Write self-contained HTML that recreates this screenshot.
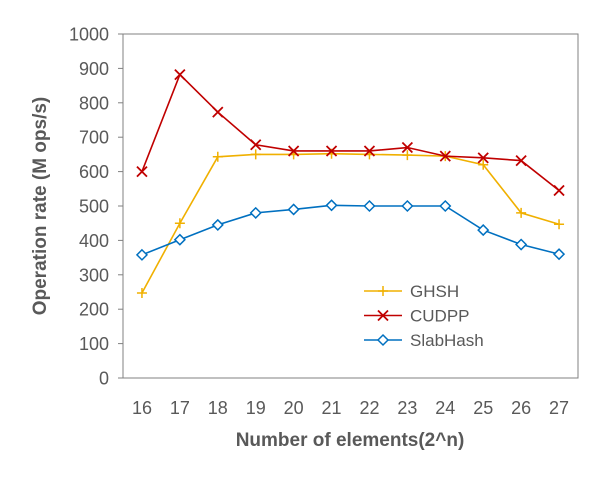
<!DOCTYPE html>
<html><head><meta charset="utf-8"><style>
body{margin:0;background:#fff;}
svg text{font-family:"Liberation Sans",Arial,sans-serif;fill:#595959;}
</style></head><body>
<svg width="602" height="479" id="c">
<rect x="0" y="0" width="602" height="479" fill="#fff"/>
</svg>
<script>
const categories=["16","17","18","19","20","21","22","23","24","25","26","27"];
const ghsh=[247,450,643,650,650,652,650,648,645,620,480,447];
const cudpp=[600,882,773,678,660,660,660,670,645,640,632,545];
const slab=[358,402,445,480,490,502,500,500,500,430,388,360];
const yTicks=[0,100,200,300,400,500,600,700,800,900,1000];
const NS="http://www.w3.org/2000/svg";
const svg=document.getElementById('c');
const L=123,R=578,T=34,B=378;
const xs=i=>L+(R-L)/categories.length*(i+0.5);
const ys=v=>B-(B-T)*v/1000;
function mk(t,a,p){const e=document.createElementNS(NS,t);for(const k in a)e.setAttribute(k,a[k]);(p||svg).appendChild(e);return e;}
const frame=mk('rect',{x:L,y:T,width:R-L,height:B-T,fill:'none',stroke:'#808080','stroke-width':1});


yTicks.forEach(v=>{
 const tk=mk('line',{x1:L-5,x2:L,y1:ys(v),y2:ys(v),stroke:'#808080'});
 
 
 const t=mk('text',{x:L-14,y:ys(v)+6.5,'text-anchor':'end','font-size':18});
 t.textContent=v;
 
 
});
categories.forEach((c,i)=>{
 const t=mk('text',{x:xs(i),y:414,'text-anchor':'middle','font-size':18});
 t.textContent=c;
 
 
});
const xt=mk('text',{x:350,y:446,'text-anchor':'middle','font-size':19,'font-weight':'bold'});
xt.textContent='Number of elements(2^n)';


const yt=mk('text',{x:0,y:0,'text-anchor':'middle','font-size':19,'font-weight':'bold',transform:'translate(46,206) rotate(-90)'});
yt.textContent='Operation rate (M ops/s)';


function marker(kind,x,y,col,g){
 if(kind==='plus'){mk('path',{d:`M${x-5},${y}H${x+5}M${x},${y-5}V${y+5}`,stroke:col,'stroke-width':1.5,fill:'none'},g);}
 else if(kind==='x'){mk('path',{d:`M${x-5},${y-5}L${x+5},${y+5}M${x-5},${y+5}L${x+5},${y-5}`,stroke:col,'stroke-width':1.8,fill:'none'},g);}
 else {mk('path',{d:`M${x},${y-5}L${x+5},${y}L${x},${y+5}L${x-5},${y}Z`,stroke:col,'stroke-width':1.5,fill:'#fff'},g);}
}
const series=[["GHSH",ghsh,'#F0B000','plus'],["CUDPP",cudpp,'#C00000','x'],["SlabHash",slab,'#0070C0','diamond']];
series.forEach(([name,vals,col,kind],si)=>{
 const g=mk('g',{});
 
 
 mk('polyline',{points:vals.map((v,i)=>xs(i)+','+ys(v)).join(' '),fill:'none',stroke:col,'stroke-width':1.6},g);
 vals.forEach((v,i)=>marker(kind,xs(i),ys(v),col,g));
 const ly=291+si*24.5;
 const lg=mk('g',{});
 
 
 mk('line',{x1:364,x2:402,y1:ly,y2:ly,stroke:col,'stroke-width':1.6},lg);
 marker(kind,383,ly,col,lg);
 const t=mk('text',{x:410,y:ly+6,'font-size':17},lg);
 t.textContent=name;
});
</script>
</body></html>
